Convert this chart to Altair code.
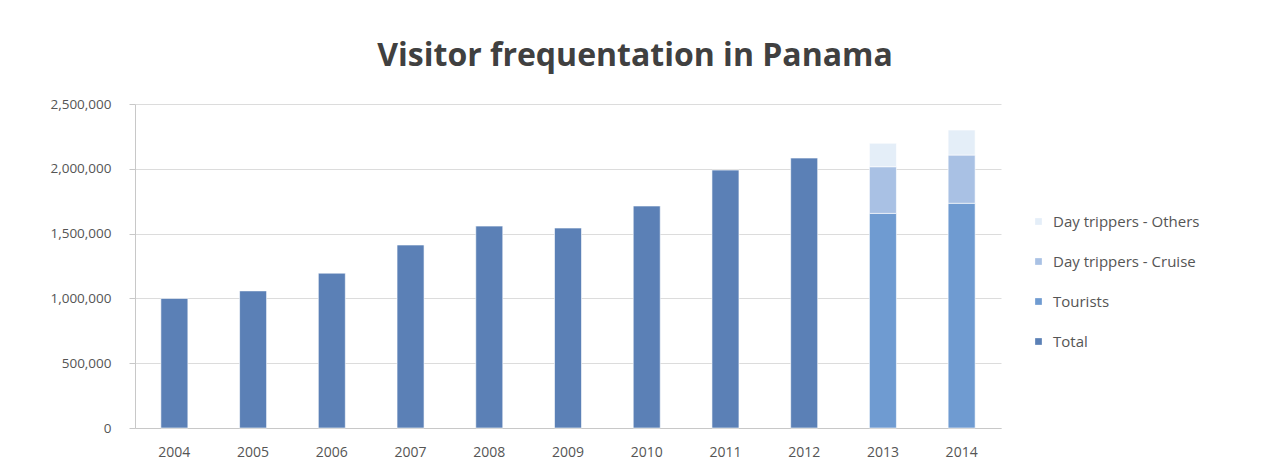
import altair as alt
import pandas as pd

years = ["2004", "2005", "2006", "2007", "2008", "2009", "2010", "2011", "2012", "2013", "2014"]
total = [1000000, 1058000, 1195000, 1412000, 1558000, 1543000, 1713000, 1990000, 2083000, None, None]
tourists = [None] * 9 + [1656000, 1734000]
cruise = [None] * 9 + [360000, 372000]
others = [None] * 9 + [181000, 193000]

series_names = ["Day trippers - Others", "Day trippers - Cruise", "Tourists", "Total"]
series_colors = ["#e4eef8", "#a9c1e4", "#6f9bd1", "#5b80b6"]
stack_rank = {"Total": 0, "Tourists": 0, "Day trippers - Cruise": 1, "Day trippers - Others": 2}

rows = []
for i, y in enumerate(years):
    for name, vals in [("Total", total), ("Tourists", tourists),
                       ("Day trippers - Cruise", cruise), ("Day trippers - Others", others)]:
        v = vals[i]
        if v is not None:
            rows.append({"year": y, "series": name, "value": v, "rank": stack_rank[name]})
df = pd.DataFrame(rows)

chart = alt.Chart(df).mark_bar(size=27, stroke="#ffffff", strokeWidth=0.6).encode(
    x=alt.X("year:N", sort=years, title=None,
            scale=alt.Scale(paddingInner=0.0, paddingOuter=0.0),
            axis=alt.Axis(labelAngle=0, labelFontSize=14, labelColor="#555555",
                          labelFont="Open Sans", labelPadding=17,
                          domainColor="#c8c8c8", ticks=False, grid=False)),
    y=alt.Y("value:Q", stack="zero", title=None,
            scale=alt.Scale(domain=[0, 2500000], nice=False),
            axis=alt.Axis(values=[0, 500000, 1000000, 1500000, 2000000, 2500000],
                          format=",.0f", labelFontSize=13.5, labelColor="#555555",
                          labelFont="Open Sans", labelPadding=18, tickSize=6,
                          tickColor="#c8c8c8", domainColor="#c8c8c8",
                          gridColor="#dcdcdc", minExtent=122, maxExtent=122)),
    color=alt.Color("series:N", title=None,
                    scale=alt.Scale(domain=series_names, range=series_colors),
                    legend=alt.Legend(orient="none", legendX=896, legendY=110,
                                      symbolType="square", symbolSize=45,
                                      labelFontSize=15, labelColor="#555555",
                                      labelFont="Open Sans", rowPadding=24,
                                      labelOffset=7, symbolStrokeWidth=0)),
    order=alt.Order("rank:Q", sort="ascending"),
).properties(
    width=866, height=324,
    padding={"left": 5, "top": 32, "right": 5, "bottom": 5},
    title=alt.TitleParams("Visitor frequentation in Panama", fontSize=32,
                          font="Open Sans", fontWeight="bold", color="#404040",
                          anchor="middle", offset=24, dx=67),
).configure_view(stroke=None, strokeWidth=0)

chart.save("out.html", embed_options={"renderer": "svg", "actions": False})
